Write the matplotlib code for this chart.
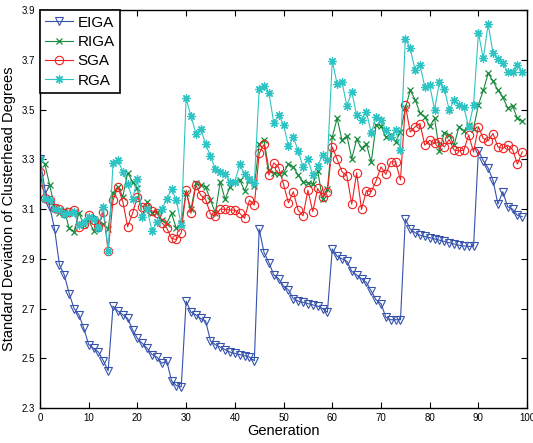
import numpy as np
import matplotlib
matplotlib.use("Agg")
import matplotlib.pyplot as plt

plt.rcParams["font.family"] = ["Liberation Sans", "DejaVu Sans"]

# --------------------------------------------------
# Data: std. deviation of clusterhead degrees per generation
# --------------------------------------------------

generation = np.arange(100)

eiga = [
    3.30, 3.18, 3.11, 3.02, 2.875, 2.835, 2.76, 2.70, 2.675, 2.62,
    2.555, 2.54, 2.525, 2.49, 2.45, 2.71, 2.69, 2.675, 2.66, 2.615,
    2.58, 2.56, 2.54, 2.515, 2.505, 2.48, 2.49, 2.41, 2.39, 2.385,
    2.73, 2.685, 2.675, 2.66, 2.65, 2.57, 2.555, 2.545, 2.535, 2.525,
    2.52, 2.515, 2.51, 2.505, 2.49, 3.02, 2.925, 2.885, 2.835, 2.82,
    2.79, 2.775, 2.74, 2.73, 2.725, 2.72, 2.715, 2.71, 2.70, 2.685,
    2.94, 2.91, 2.90, 2.89, 2.85, 2.835, 2.82, 2.805, 2.77, 2.735,
    2.72, 2.665, 2.655, 2.655, 2.655, 3.06, 3.02, 3.005, 2.995, 2.99,
    2.985, 2.98, 2.975, 2.97, 2.965, 2.96, 2.955, 2.952, 2.95, 2.95,
    3.335, 3.295, 3.265, 3.215, 3.12, 3.17, 3.11, 3.10, 3.075, 3.07,
]

riga = [
    3.30, 3.28, 3.196, 3.109, 3.083, 3.096, 3.022, 3.009, 3.085, 3.036,
    3.056, 3.013, 3.053, 3.04, 3.02, 3.166, 3.19, 3.15, 3.246, 3.21,
    3.183, 3.07, 3.13, 3.083, 3.09, 3.056, 3.042, 3.083, 3.022, 3.045,
    3.166, 3.10, 3.203, 3.196, 3.19, 3.136, 3.085, 3.21, 3.139, 3.19,
    3.21, 3.217, 3.174, 3.217, 3.192, 3.361, 3.377, 3.257, 3.246, 3.24,
    3.246, 3.281, 3.27, 3.236, 3.21, 3.205, 3.20, 3.255, 3.14, 3.18,
    3.39, 3.465, 3.377, 3.395, 3.303, 3.38, 3.345, 3.362, 3.288, 3.44,
    3.434, 3.39, 3.40, 3.37, 3.41, 3.505, 3.578, 3.54, 3.487, 3.471,
    3.433, 3.465, 3.335, 3.408, 3.397, 3.357, 3.431, 3.414, 3.438, 3.424,
    3.52, 3.577, 3.646, 3.615, 3.578, 3.55, 3.507, 3.515, 3.465, 3.456,
]

sga = [
    3.25, 3.143, 3.136, 3.103, 3.099, 3.085, 3.09, 3.096, 3.026, 3.04,
    3.076, 3.056, 3.03, 3.09, 2.932, 3.136, 3.19, 3.13, 3.029, 3.083,
    3.15, 3.11, 3.11, 3.092, 3.085, 3.045, 3.025, 2.982, 2.978, 3.005,
    3.176, 3.083, 3.196, 3.156, 3.139, 3.08, 3.072, 3.10, 3.099, 3.096,
    3.096, 3.083, 3.063, 3.136, 3.116, 3.324, 3.36, 3.237, 3.286, 3.267,
    3.20, 3.125, 3.17, 3.095, 3.073, 3.176, 3.09, 3.183, 3.15, 3.17,
    3.35, 3.30, 3.25, 3.234, 3.12, 3.246, 3.099, 3.174, 3.17, 3.214,
    3.27, 3.24, 3.29, 3.29, 3.217, 3.518, 3.41, 3.431, 3.444, 3.357,
    3.377, 3.364, 3.37, 3.35, 3.38, 3.337, 3.334, 3.337, 3.398, 3.33,
    3.431, 3.384, 3.375, 3.404, 3.35, 3.344, 3.357, 3.34, 3.281, 3.33,
]

rga = [
    3.30, 3.14, 3.135, 3.10, 3.095, 3.08, 3.085, 3.09, 3.035, 3.05,
    3.07, 3.06, 3.025, 3.11, 2.932, 3.284, 3.297, 3.25, 3.20, 3.14,
    3.22, 3.07, 3.10, 3.01, 3.05, 3.10, 3.14, 3.18, 3.136, 3.036,
    3.545, 3.474, 3.404, 3.424, 3.36, 3.313, 3.26, 3.25, 3.243, 3.21,
    3.21, 3.28, 3.24, 3.223, 3.206, 3.585, 3.594, 3.565, 3.447, 3.478,
    3.44, 3.353, 3.39, 3.334, 3.27, 3.30, 3.237, 3.273, 3.317, 3.297,
    3.696, 3.603, 3.612, 3.514, 3.572, 3.478, 3.46, 3.491, 3.407, 3.469,
    3.458, 3.418, 3.39, 3.418, 3.337, 3.786, 3.746, 3.659, 3.679, 3.592,
    3.598, 3.50, 3.612, 3.585, 3.498, 3.538, 3.518, 3.509, 3.431, 3.518,
    3.809, 3.706, 3.844, 3.726, 3.702, 3.686, 3.652, 3.652, 3.679, 3.652,
]

x_ticks = np.arange(0, 101, 10)
y_ticks = np.arange(2.3, 3.91, 0.2)

# --------------------------------------------------
# Plot
# --------------------------------------------------

fig = plt.figure(figsize=(5.33, 4.43), dpi=100)
ax = fig.add_axes([0.075, 0.079, 0.914, 0.898])

ax.plot(generation, eiga, color="#3552ad", lw=0.8, marker="v",
        ms=6, mfc="none", mew=0.8, label="EIGA")
ax.plot(generation, riga, color="#178a3c", lw=0.8, marker="x",
        ms=4, mew=0.9, label="RIGA")
ax.plot(generation, sga, color="#f02020", lw=0.8, marker="o",
        ms=6, mfc="none", mew=0.8, label="SGA")
ax.plot(generation, rga, color="#2ec4c4", lw=0.8, marker=(8, 2, 0),
        ms=6, mew=0.9, label="RGA")

ax.set_xlim(0, 100)
ax.set_ylim(2.3, 3.9)
ax.set_xticks(x_ticks)
ax.set_yticks(y_ticks)
ax.set_yticklabels([f"{v:.1f}" for v in y_ticks])
ax.tick_params(direction="in", top=True, right=True, labelsize=7,
               length=4, width=0.8)
for spine in ax.spines.values():
    spine.set_linewidth(1.0)

ax.set_xlabel("Generation", fontsize=10.5, labelpad=1)
ax.set_ylabel("Standard Deviation of Clusterhead Degrees", fontsize=10.5,
              labelpad=4)

leg = ax.legend(loc="upper left", fontsize=11, fancybox=False,
                edgecolor="black", framealpha=1, borderaxespad=0,
                labelspacing=0.35, handlelength=1.8, handletextpad=0.3,
                borderpad=0.35)
leg.get_frame().set_linewidth(1.2)

fig.savefig("out.png", dpi=100)
